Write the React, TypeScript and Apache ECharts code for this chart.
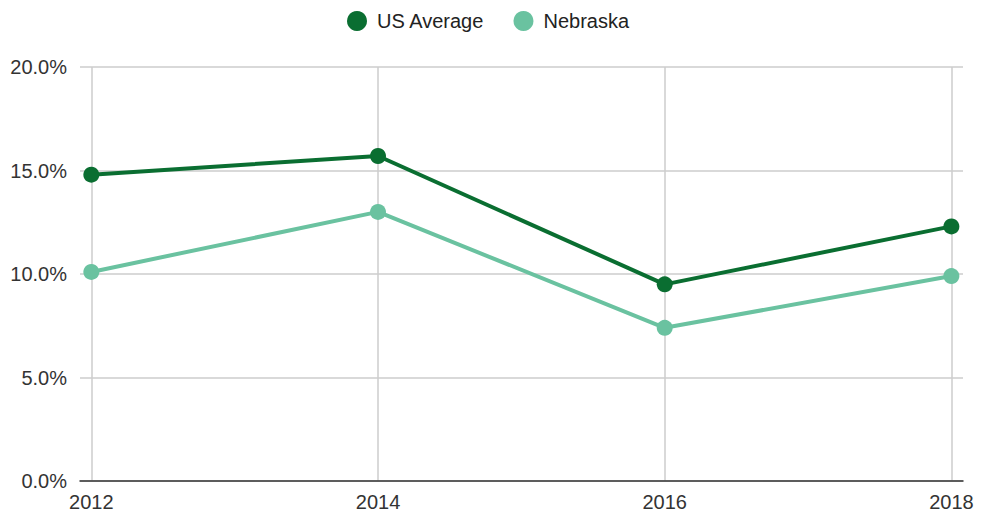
import React, { useEffect, useRef } from "react";
import * as echarts from "echarts";

const years = [2012, 2014, 2016, 2018];
const usAverage = [14.8, 15.7, 9.5, 12.3];
const nebraska = [10.1, 13.0, 7.4, 9.9];

const FONT = "'Liberation Sans', Arial, sans-serif";

export default function App() {
  const ref = useRef<HTMLDivElement>(null);
  useEffect(() => {
    document.body.style.margin = "0";
    if (!ref.current) return;
    const chart = echarts.init(ref.current, undefined, { renderer: "svg" });
    chart.setOption({
      animation: false,
      backgroundColor: "#ffffff",
      textStyle: { fontFamily: FONT },
      legend: {
        left: 342,
        top: 6,
        itemWidth: 20,
        itemHeight: 20,
        itemGap: 29,
        icon: "circle",
        textStyle: { fontFamily: FONT, fontSize: 20, color: "#222222", padding: [0, 0, 0, 5] },
        data: ["US Average", "Nebraska"],
      },
      grid: { left: 80, right: 28, top: 67, bottom: 35, containLabel: false },
      xAxis: {
        type: "value",
        min: 2011.921,
        max: 2018.081,
        axisLine: { show: true, onZero: false, lineStyle: { color: "#333333", width: 1.5 } },
        axisTick: { show: false, customValues: years },
        axisLabel: {
          customValues: years,
          margin: 11,
          fontFamily: FONT,
          fontSize: 20,
          color: "#333333",
          formatter: (v: number) => String(v),
        },
        splitLine: { show: true, lineStyle: { color: "#cccccc", width: 1.5 } },
      },
      yAxis: {
        type: "value",
        min: 0,
        max: 20,
        interval: 5,
        axisLine: { show: false },
        axisTick: { show: false },
        axisLabel: {
          margin: 13,
          fontFamily: FONT,
          fontSize: 20,
          color: "#333333",
          formatter: (v: number) => v.toFixed(1) + "%",
        },
        splitLine: { show: true, lineStyle: { color: "#cccccc", width: 1.5 } },
      },
      series: [
        {
          name: "US Average",
          type: "line",
          data: years.map((y, i) => [y, usAverage[i]]),
          symbol: "circle",
          symbolSize: 16,
          showAllSymbol: true,
          lineStyle: { width: 4, color: "#0a6e31" },
          itemStyle: { color: "#0a6e31" },
          z: 3,
        },
        {
          name: "Nebraska",
          type: "line",
          data: years.map((y, i) => [y, nebraska[i]]),
          symbol: "circle",
          symbolSize: 16,
          showAllSymbol: true,
          lineStyle: { width: 4, color: "#6ac2a0" },
          itemStyle: { color: "#6ac2a0" },
          z: 2,
        },
      ],
    });
    return () => chart.dispose();
  }, []);
  return <div ref={ref} style={{ width: 991, height: 516 }} />;
}
